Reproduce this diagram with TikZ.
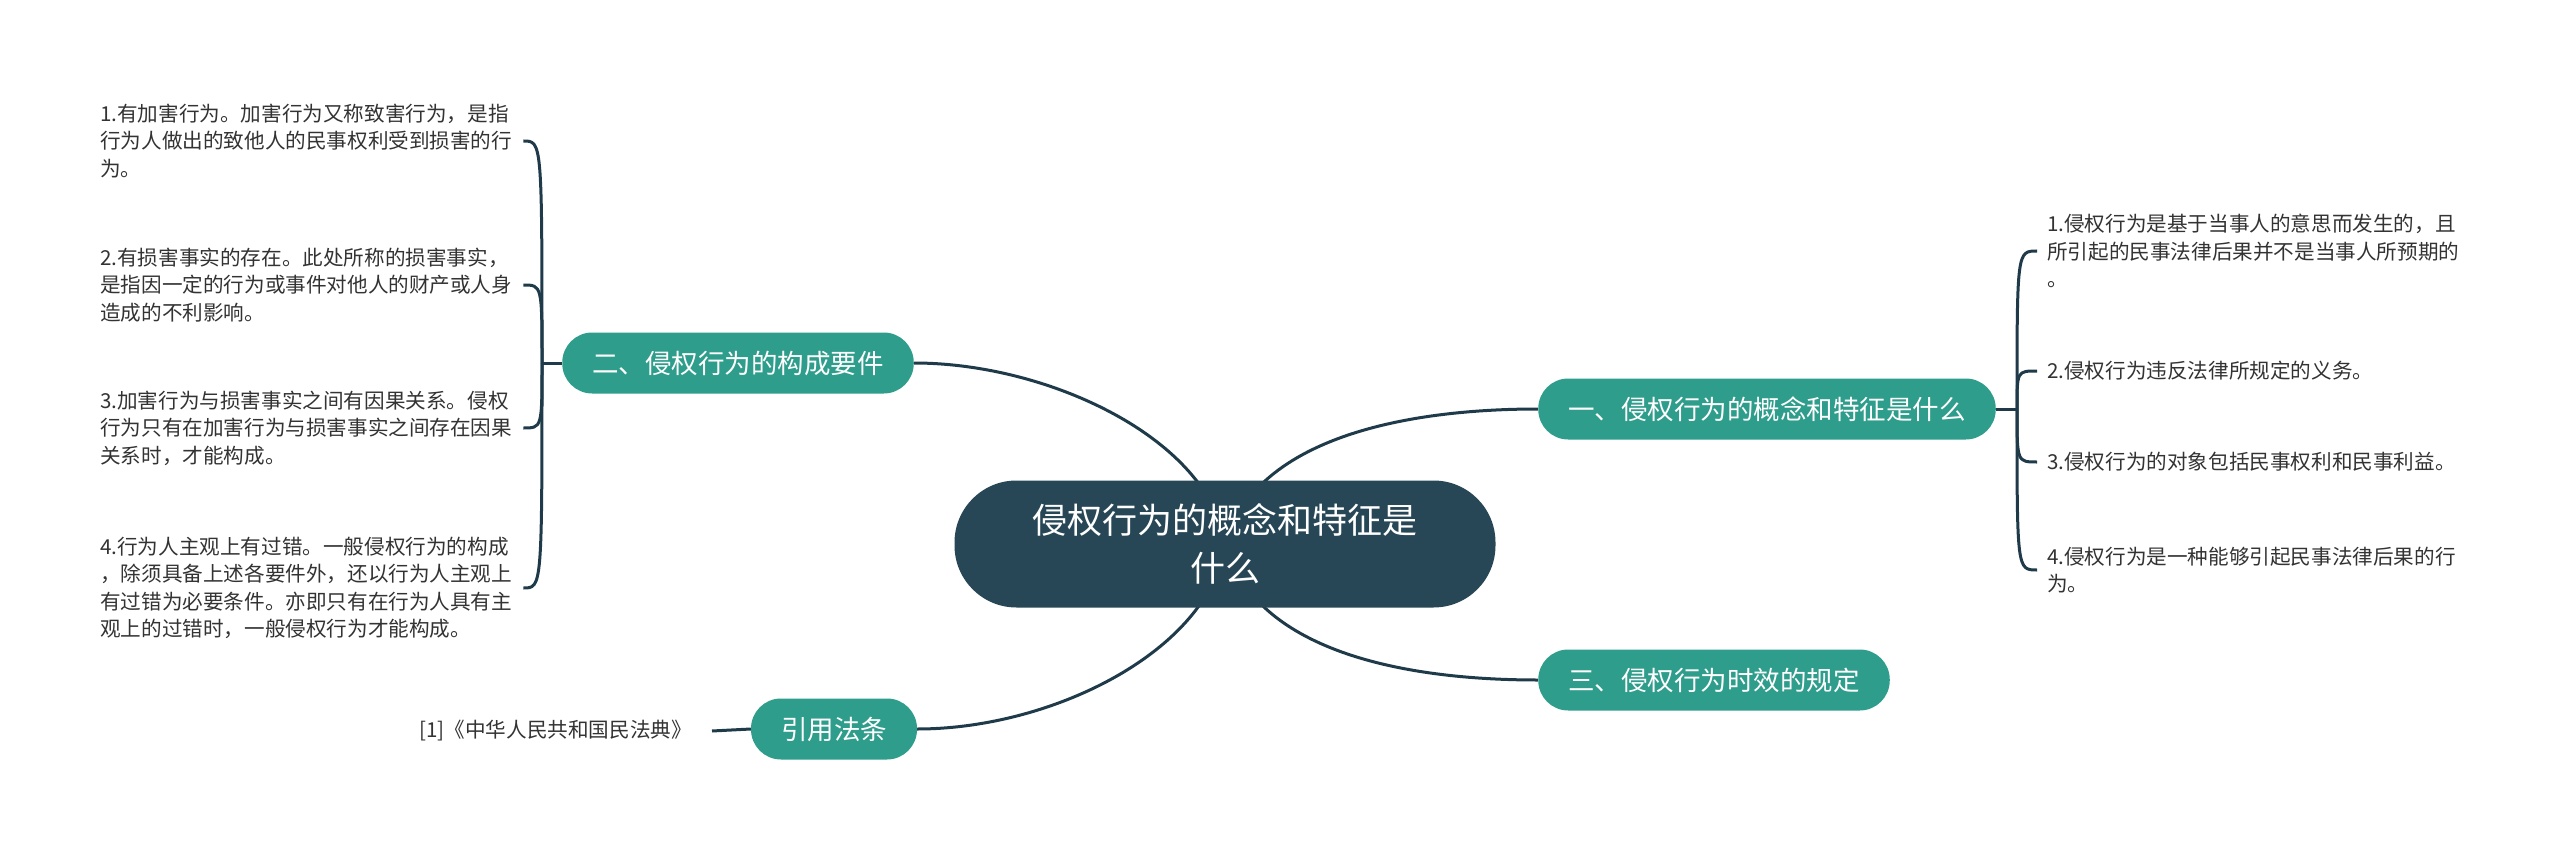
\documentclass[tikz,border=0pt]{standalone}
\usepackage{fontspec}
\usepackage{xcolor}
\usepackage{tikz}
\usetikzlibrary{positioning,backgrounds}

\newfontfamily\cjk{Noto Sans CJK SC}
\definecolor{rootfill}{HTML}{284756}
\definecolor{topicfill}{HTML}{2E9D8B}
\definecolor{linkcol}{HTML}{1F3B4A}
\definecolor{leaftext}{HTML}{333333}

\begin{document}
\begin{tikzpicture}[x=1pt, y=1pt,
  root/.style={fill=rootfill, rounded corners=62pt, minimum width=541pt, minimum height=127pt,
               align=center, text=white, font=\cjk\fontsize{35}{48}\selectfont},
  topic/.style={fill=topicfill, rounded corners=30pt, minimum height=61pt, inner xsep=30pt,
                inner ysep=0pt, text=white, font=\cjk\fontsize{26.5}{32}\selectfont},
  leaf/.style={text=leaftext, align=left, inner ysep=2pt, font=\cjk\fontsize{20.6}{27.6}\selectfont},
  lleaf/.style={leaf, anchor=west, text width=414pt, inner xsep=9pt},
  rleaf/.style={leaf, anchor=west, text width=430pt, inner xsep=10pt},
  link/.style={draw=linkcol, line width=3pt}
]
\useasboundingbox (0,0) rectangle (2560,-845);

% Root
\node[root] (C) at (1225,-544) {侵权行为的概念和特征是\\什么};

% Topics
\node[topic] (N1) at (1767,-409) {一、侵权行为的概念和特征是什么};
\node[topic] (N3) at (1714,-680) {三、侵权行为时效的规定};
\node[topic] (N2) at (738,-363) {二、侵权行为的构成要件};
\node[topic] (N4) at (834,-729) {引用法条};

% Leaves of topic 2
\node[lleaf] (L1) at (91,-141) {1.有加害行为。加害行为又称致害行为，是指\\行为人做出的致他人的民事权利受到损害的行\\为。};
\node[lleaf] (L2) at (91,-285) {2.有损害事实的存在。此处所称的损害事实，\\是指因一定的行为或事件对他人的财产或人身\\造成的不利影响。};
\node[lleaf] (L3) at (91,-428) {3.加害行为与损害事实之间有因果关系。侵权\\行为只有在加害行为与损害事实之间存在因果\\关系时，才能构成。};
\node[lleaf] (L4) at (91,-588) {4.行为人主观上有过错。一般侵权行为的构成\\，除须具备上述各要件外，还以行为人主观上\\有过错为必要条件。亦即只有在行为人具有主\\观上的过错时，一般侵权行为才能构成。};

% Leaves of topic 1
\node[rleaf] (R1) at (2037,-251) {1.侵权行为是基于当事人的意思而发生的，且\\所引起的民事法律后果并不是当事人所预期的\\。};
\node[rleaf] (R2) at (2037,-371) {2.侵权行为违反法律所规定的义务。};
\node[rleaf] (R3) at (2037,-462) {3.侵权行为的对象包括民事权利和民事利益。};
\node[rleaf] (R4) at (2037,-570) {4.侵权行为是一种能够引起民事法律后果的行\\为。};

% Citation
\node[leaf, anchor=east, inner xsep=20pt] (Cite) at (712,-731) {[1]《中华人民共和国民法典》};

\coordinate (JL) at (542,-363);
\coordinate (JR) at (2017,-409);

\begin{scope}[on background layer]
\fill[white] (0,0) rectangle (2560,-845);
% Root to topics
\draw[link] (C.center) .. controls +(-15,104) and +(136,0) .. (N2.east);
\draw[link] (C.center) .. controls +(30,104) and +(-138,0) .. (N1.west);
\draw[link] (C.center) .. controls +(30,-106) and +(-138,0) .. (N3.west);
\draw[link] (C.center) .. controls +(-15,-106) and +(136,0) .. (N4.east);
% Brackets
\draw[link] (N2.west) -- (JL);
\foreach \leaf in {L1,L2,L3,L4}
  \draw[link] (JL) .. controls (JL |- \leaf.east) .. (\leaf.east);
\draw[link] (N1.east) -- (JR);
\foreach \leaf in {R1,R2,R3,R4}
  \draw[link] (JR) .. controls (JR |- \leaf.west) .. (\leaf.west);
\draw[link] (Cite.east) -- (N4.west);
\end{scope}
\end{tikzpicture}
\end{document}
